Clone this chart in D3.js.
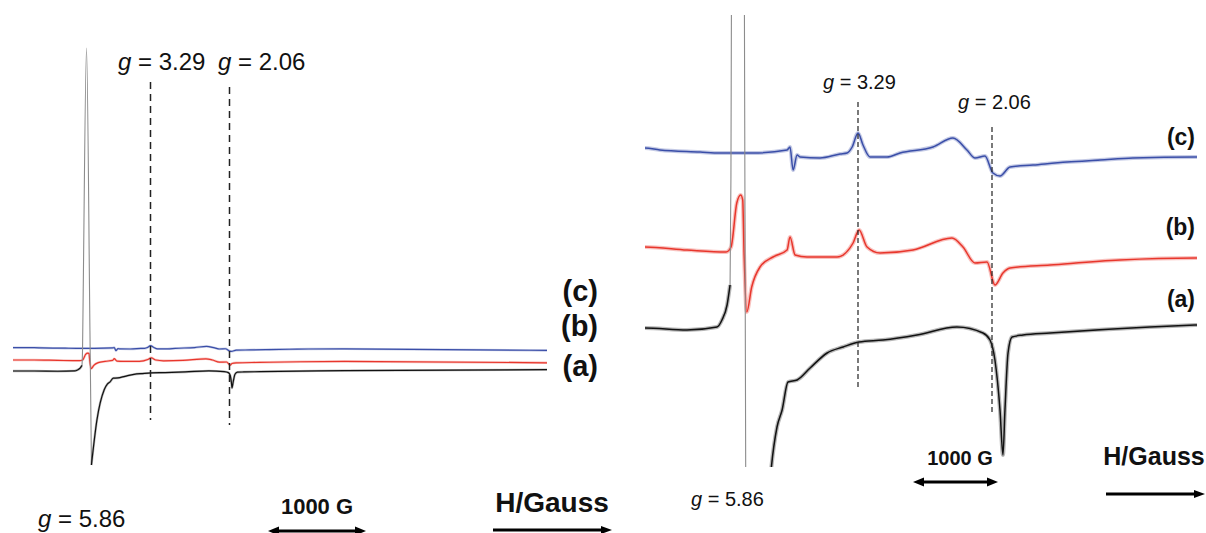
<!DOCTYPE html>
<html><head><meta charset="utf-8">
<script src="https://cdn.jsdelivr.net/npm/d3@7"></script>
<style>
body{margin:0;background:#fff}
svg{display:block}
text{font-family:"Liberation Sans",Arial,Helvetica,sans-serif;fill:#111}
</style>
</head><body>
<svg id="chart" width="1206" height="533"></svg>
<script>
// ---------- data (field in Gauss, intensity in arbitrary units) ----------
const gValues = [5.86, 3.29, 2.06];
const gLabels = ["5.86", "3.29", "2.06"];
const traceNames = ["(a)", "(b)", "(c)"];

const fieldA = [100, 400, 737, 978, 1018, 1059, 1083, 1090, 1100, 1147, 1195, 1216, 1293, 1396, 1438, 1476, 1520, 1588, 1685, 1812, 1931, 2052, 2270, 2579, 2943, 3180, 3244, 3287, 3330, 3355, 3372, 3398, 3432, 3525, 3754, 4601, 4983, 7900];
const intensityA = [0, 0, -2, 1, 8, 23, 43, 150, 600, 2422, 300, -705, -367, -139, -99, -82, -54, -52, -40, -25, -19, -14, -12, -7, 1, -5, -12, -32, -82, -127, -82, -25, -9, -7, -5, 1, 3, 10];

const fieldB = [100, 400, 737, 1051, 1091, 1137, 1167, 1182, 1192, 1212, 1249, 1311, 1408, 1513, 1535, 1573, 1662, 1886, 2006, 2052, 2125, 2243, 2543, 2898, 2998, 3107, 3217, 3287, 3355, 3415, 3754, 4347, 4983, 7900];
const intensityB = [3, 3, 0, -2, 3, 47, 55, 50, -3, -62, -37, -17, -7, 0, 13, -5, -7, -7, 7, 20, 3, -3, 0, 12, 3, -13, -12, -35, -23, -18, -15, -10, -8, -18];

const fieldC = [100, 400, 520, 842, 1002, 1147, 1259, 1513, 1535, 1558, 1588, 1610, 1759, 1909, 1961, 1999, 2043, 2088, 2152, 2307, 2425, 2725, 2907, 3034, 3108, 3198, 3270, 3330, 3415, 3610, 3898, 4178, 4457, 4983, 7900];
const intensityC = [7, 7, 5, 3, 2, 2, 2, 5, 8, -15, 0, -2, -3, 1, 2, 8, 22, 10, -2, -2, 2, 8, 17, 5, -3, -1, -18, -21, -12, -10, -7, -5, -3, -2, -14];

// ---------- derived ----------
const gField = gValues.map(g => 6720 / g);   // resonance field (G) at ~9.4 GHz
const dipField = 3355;                        // observed minimum of the g=2.06 line
const spikeRange = [1083, 1216];              // part of (a) drawn as a thin grey line

const traces = [
  {name: traceNames[0], color: "#111111", pts: fieldA.map((h, i) => [h, intensityA[i]])},
  {name: traceNames[1], color: "#e8362c", pts: fieldB.map((h, i) => [h, intensityB[i]])},
  {name: traceNames[2], color: "#3a4ea8", pts: fieldC.map((h, i) => [h, intensityC[i]])}
];

const svg = d3.select("#chart");
const defs = svg.append("defs");

const panels = [
  {
    id: "L",
    x: d3.scaleLinear().domain([100, gField[0], gField[1], gField[2], dipField, 7900])
                       .range([13, 86.5, 150.5, 229.5, 232, 547]),
    amp: d3.scaleLinear().domain([0, 7.5]).range([0, -1]),
    baselines: [371, 360.4, 348.6],
    clip: null,
    lw: 1.2, bandW: 2.4, bandOp: 0.3,
    dashY: [[82, 420], [87, 425]], dash: "7,5", dashW: 1.5,
    gFont: 24,
    gPos: [[38, 527], [118, 70], [218, 70]],
    nameFont: 29, nameX: 598, nameY: [376, 336, 301],
    barText: {x: 317, y: 514, size: 22},
    bar: {x1: 268, x2: 366, y: 531},
    hText: {x: 552, y: 512, size: 28},
    hArrow: {x1: 493, x2: 612, y: 530}
  },
  {
    id: "R",
    x: d3.scaleLinear().domain([400, gField[0], gField[1], gField[2], 5000])
                       .range([645, 738, 858, 992, 1197]),
    amp: d3.scaleLinear().domain([0, 1]).range([0, -1]),
    baselines: [328, 250, 155],
    clip: {x: 645, y: 15, w: 552, h: 452},
    lw: 1.5, bandW: 4, bandOp: 0.3,
    dashY: [[102, 388], [127, 413]], dash: "5,3", dashW: 1.2,
    gFont: 20,
    gPos: [[691, 506], [823, 89], [958, 109]],
    nameFont: 23, nameX: 1195, nameY: [307, 235, 145],
    barText: {x: 960, y: 465, size: 20},
    bar: {x1: 913, x2: 998, y: 482},
    hText: {x: 1154, y: 465, size: 25},
    hArrow: {x1: 1106, x2: 1205, y: 494}
  }
];

function arrow(g, x1, x2, y, both, w, hl, hw) {
  g.append("line").attr("x1", both ? x1 + hl - 1 : x1).attr("x2", x2 - hl + 1)
    .attr("y1", y).attr("y2", y).attr("stroke", "#000").attr("stroke-width", w);
  g.append("path").attr("d", `M${x2},${y} L${x2 - hl},${y - hw} L${x2 - hl},${y + hw} Z`).attr("fill", "#000");
  if (both) g.append("path").attr("d", `M${x1},${y} L${x1 + hl},${y - hw} L${x1 + hl},${y + hw} Z`).attr("fill", "#000");
}

panels.forEach(p => {
  const g = svg.append("g");
  const traceG = g.append("g");
  if (p.clip) {
    defs.append("clipPath").attr("id", "clip" + p.id).append("rect")
      .attr("x", p.clip.x).attr("y", p.clip.y).attr("width", p.clip.w).attr("height", p.clip.h);
    traceG.attr("clip-path", `url(#clip${p.id})`);
  }

  // dashed g-markers
  [1, 2].forEach((k, j) => {
    const xx = p.x(gField[k]);
    g.append("line").attr("x1", xx).attr("x2", xx)
      .attr("y1", p.dashY[j][0]).attr("y2", p.dashY[j][1])
      .attr("stroke", "#222").attr("stroke-width", p.dashW).attr("stroke-dasharray", p.dash);
  });

  // traces: draw (c), (b), (a)
  [2, 1, 0].forEach(ti => {
    const t = traces[ti];
    const base = p.baselines[ti];
    const line = d3.line().x(d => p.x(d[0])).y(d => base + p.amp(d[1])).curve(d3.curveMonotoneX);
    let segs;
    if (ti === 0) {
      segs = [
        {pts: t.pts.filter(d => d[0] <= spikeRange[0]), color: t.color, band: true},
        {pts: t.pts.filter(d => d[0] >= spikeRange[0] && d[0] <= spikeRange[1]), color: "#8c8c8c", band: false},
        {pts: t.pts.filter(d => d[0] >= spikeRange[1]), color: t.color, band: true}
      ];
    } else {
      segs = [{pts: t.pts, color: t.color, band: true}];
    }
    segs.forEach(s => {
      if (s.band) traceG.append("path").attr("d", line(s.pts)).attr("fill", "none")
        .attr("stroke", s.color).attr("stroke-opacity", p.bandOp).attr("stroke-width", p.bandW)
        .attr("stroke-linejoin", "round");
      traceG.append("path").attr("d", line(s.pts)).attr("fill", "none")
        .attr("stroke", s.color).attr("stroke-width", s.band ? p.lw : 1.1)
        .attr("stroke-linejoin", "round");
    });
  });

  // g labels
  gLabels.forEach((lab, i) => {
    const t = g.append("text").attr("x", p.gPos[i][0]).attr("y", p.gPos[i][1])
      .attr("font-size", p.gFont);
    t.append("tspan").attr("font-style", "italic").text("g");
    t.append("tspan").text(" = " + lab);
  });

  // trace names
  traceNames.forEach((n, i) => {
    g.append("text").attr("x", p.nameX).attr("y", p.nameY[i]).attr("text-anchor", "end")
      .attr("font-size", p.nameFont).attr("font-weight", "bold").text(n);
  });

  // scale bar and field arrow
  g.append("text").attr("x", p.barText.x).attr("y", p.barText.y).attr("text-anchor", "middle")
    .attr("font-size", p.barText.size).attr("font-weight", "bold").text("1000 G");
  arrow(g, p.bar.x1, p.bar.x2, p.bar.y, true, 3, 11, 4.5);
  g.append("text").attr("x", p.hText.x).attr("y", p.hText.y).attr("text-anchor", "middle")
    .attr("font-size", p.hText.size).attr("font-weight", "bold").text("H/Gauss");
  arrow(g, p.hArrow.x1, p.hArrow.x2, p.hArrow.y, false, 3, 11, 4);
});
</script>
</body></html>
